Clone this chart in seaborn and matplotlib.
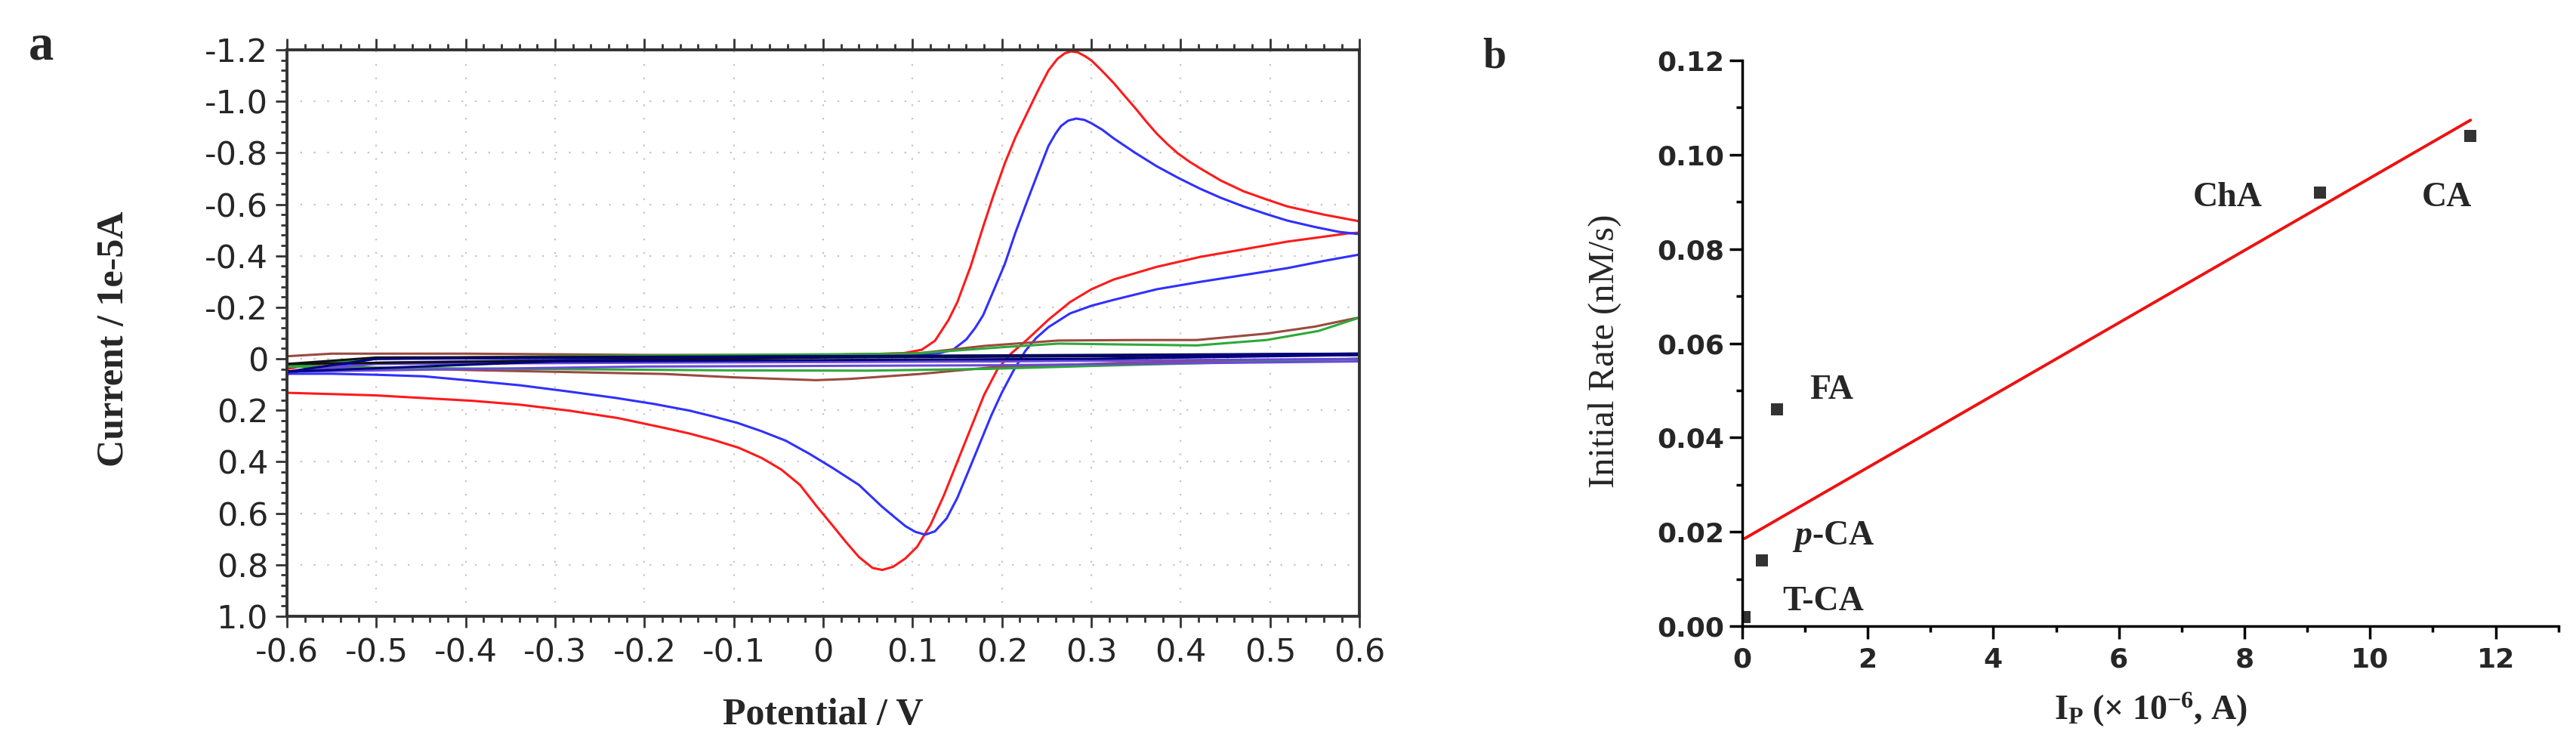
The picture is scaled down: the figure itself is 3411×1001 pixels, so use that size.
import numpy as np
import pandas as pd
import matplotlib
matplotlib.use("Agg")
import matplotlib.pyplot as plt
import seaborn as sns
from matplotlib.ticker import MultipleLocator, FuncFormatter

# ---------------- Panel a: cyclic voltammograms (Potential / V, Current / 1e-5 A)
red_fwd_E = [-0.6, -0.58, -0.55, -0.5, -0.4, -0.3, -0.2, -0.1, 0.0, 0.05, 0.09, 0.11, 0.125, 0.14, 0.15,
             0.165, 0.179, 0.19, 0.203, 0.215, 0.228, 0.24, 0.252, 0.262, 0.27, 0.277, 0.285, 0.293, 0.30,
             0.312, 0.325, 0.337, 0.349, 0.361, 0.373, 0.385, 0.397, 0.41, 0.422, 0.445, 0.47, 0.495, 0.519,
             0.56, 0.6]
red_fwd_I = [0.04, 0.025, 0.012, 0.0, -0.005, -0.008, -0.01, -0.012, -0.015, -0.018, -0.022, -0.035, -0.07,
             -0.15, -0.22, -0.36, -0.514, -0.63, -0.758, -0.86, -0.954, -1.04, -1.12, -1.165, -1.186, -1.194,
             -1.19, -1.175, -1.159, -1.118, -1.071, -1.022, -0.974, -0.923, -0.875, -0.834, -0.797, -0.765,
             -0.739, -0.692, -0.651, -0.62, -0.592, -0.56, -0.534]
red_rev_E = [0.6, 0.587, 0.519, 0.47, 0.422, 0.373, 0.325, 0.30, 0.276, 0.252, 0.228, 0.21, 0.195, 0.18,
             0.165, 0.15, 0.135, 0.12, 0.105, 0.092, 0.078, 0.066, 0.055, 0.04, 0.025, 0.011, -0.008, -0.026,
             -0.047, -0.069, -0.095, -0.123, -0.15, -0.177, -0.23, -0.285, -0.34, -0.393, -0.45, -0.501,
             -0.55, -0.6]
red_rev_I = [-0.49, -0.487, -0.455, -0.425, -0.396, -0.357, -0.308, -0.27, -0.22, -0.152, -0.074, -0.02,
             0.04, 0.14, 0.27, 0.40, 0.53, 0.645, 0.73, 0.775, 0.808, 0.82, 0.812, 0.77, 0.71, 0.65, 0.57,
             0.49, 0.43, 0.385, 0.345, 0.315, 0.29, 0.269, 0.23, 0.201, 0.178, 0.163, 0.152, 0.142, 0.137,
             0.132]

blue_fwd_E = [-0.6, -0.58, -0.55, -0.5, -0.4, -0.3, -0.2, -0.1, 0.0, 0.1, 0.13, 0.145, 0.16, 0.17, 0.179,
              0.19, 0.203, 0.215, 0.228, 0.24, 0.252, 0.26, 0.266, 0.274, 0.283, 0.292, 0.30, 0.312, 0.325,
              0.349, 0.373, 0.397, 0.422, 0.445, 0.47, 0.495, 0.519, 0.55, 0.577, 0.6]
blue_fwd_I = [0.06, 0.04, 0.025, 0.015, 0.01, 0.005, 0.0, -0.005, -0.01, -0.015, -0.022, -0.035, -0.075,
              -0.12, -0.17, -0.26, -0.367, -0.49, -0.611, -0.72, -0.827, -0.875, -0.904, -0.925, -0.933,
              -0.928, -0.915, -0.89, -0.856, -0.80, -0.748, -0.703, -0.660, -0.625, -0.592, -0.563, -0.537,
              -0.512, -0.493, -0.484]
blue_rev_E = [0.6, 0.56, 0.519, 0.47, 0.422, 0.373, 0.325, 0.30, 0.276, 0.252, 0.238, 0.226, 0.213, 0.2,
              0.188, 0.175, 0.162, 0.15, 0.138, 0.125, 0.114, 0.103, 0.092, 0.078, 0.065, 0.04, 0.011,
              -0.015, -0.042, -0.07, -0.096, -0.123, -0.15, -0.19, -0.232, -0.285, -0.339, -0.393, -0.447,
              -0.5, -0.55, -0.6]
blue_rev_I = [-0.405, -0.38, -0.352, -0.325, -0.299, -0.27, -0.229, -0.206, -0.176, -0.123, -0.08, -0.03,
              0.045, 0.13, 0.22, 0.33, 0.44, 0.54, 0.62, 0.67, 0.683, 0.672, 0.65, 0.61, 0.572, 0.49, 0.425,
              0.37, 0.318, 0.28, 0.249, 0.224, 0.201, 0.175, 0.152, 0.127, 0.103, 0.085, 0.068, 0.062, 0.058,
              0.058]

brown_fwd_E = [-0.6, -0.55, -0.4, -0.2, 0.0, 0.108, 0.18, 0.263, 0.35, 0.418, 0.496, 0.55, 0.593, 0.6]
brown_fwd_I = [-0.01, -0.02, -0.02, -0.015, -0.015, -0.022, -0.05, -0.071, -0.073, -0.073, -0.098, -0.125,
               -0.156, -0.16]
brown_rev_E = [0.6, 0.55, 0.45, 0.34, 0.186, 0.108, 0.03, -0.008, -0.1, -0.177, -0.393, -0.55, -0.6]
brown_rev_I = [0.0, 0.004, 0.008, 0.015, 0.034, 0.059, 0.078, 0.083, 0.072, 0.059, 0.044, 0.03, 0.024]

green_fwd_E = [-0.6, -0.5, -0.3, -0.1, 0.1, 0.2, 0.263, 0.35, 0.418, 0.496, 0.554, 0.6]
green_fwd_I = [0.03, 0.0, -0.01, -0.015, -0.02, -0.045, -0.059, -0.055, -0.052, -0.073, -0.108, -0.16]
green_rev_E = [0.6, 0.5, 0.34, 0.186, 0.05, -0.1, -0.3, -0.5, -0.6]
green_rev_I = [0.0, 0.01, 0.024, 0.039, 0.046, 0.045, 0.04, 0.035, 0.03]

purple_fwd_E = [-0.6, -0.5, -0.2, 0.2, 0.6]
purple_fwd_I = [0.05, 0.02, 0.015, 0.01, 0.0]
purple_rev_E = [0.6, 0.2, -0.2, -0.6]
purple_rev_I = [0.01, 0.025, 0.03, 0.05]

navy_fwd_E = [-0.6, -0.5, -0.2, 0.0, 0.3, 0.6]
navy_fwd_I = [0.05, 0.0, -0.005, -0.01, -0.012, -0.02]
navy_rev_E = [0.6, 0.3, 0.0, -0.3, -0.6]
navy_rev_I = [-0.015, 0.0, 0.005, 0.01, 0.05]

black_fwd_E = [-0.6, -0.5, 0.0, 0.6]
black_fwd_I = [0.02, -0.005, -0.01, -0.02]
black_rev_E = [0.6, 0.0, -0.6]
black_rev_I = [-0.015, -0.005, 0.02]

# ---------------- Panel b: initial rate vs peak current
compounds = ["T-CA", "p-CA", "FA", "ChA", "CA"]
ip_values = [0.04, 0.31, 0.55, 9.2, 11.6]          # I_P (x 10^-6 A)
rate_values = [0.002, 0.014, 0.046, 0.092, 0.104]  # nM/s

cv_curves = [
    (red_fwd_E, red_fwd_I, red_rev_E, red_rev_I, "#ff1a1a"),
    (blue_fwd_E, blue_fwd_I, blue_rev_E, blue_rev_I, "#3030ff"),
    (brown_fwd_E, brown_fwd_I, brown_rev_E, brown_rev_I, "#9a4a40"),
    (green_fwd_E, green_fwd_I, green_rev_E, green_rev_I, "#2fa83a"),
    (purple_fwd_E, purple_fwd_I, purple_rev_E, purple_rev_I, "#6a4ad8"),
    (black_fwd_E, black_fwd_I, black_rev_E, black_rev_I, "#111111"),
    (navy_fwd_E, navy_fwd_I, navy_rev_E, navy_rev_I, "#000080"),
]

sns.set_style("ticks")
plt.rcParams["font.family"] = ["DejaVu Sans"]
plt.rcParams.update({
    "mathtext.fontset": "custom",
    "mathtext.rm": "Liberation Serif:bold",
    "mathtext.it": "Liberation Serif:italic:bold",
    "mathtext.bf": "Liberation Serif:bold",
})

SERIF = "Liberation Serif"

fig = plt.figure(figsize=(34.12, 10.01), dpi=100)
axa = fig.add_axes([0.1114, 0.1848, 0.4162, 0.7493])
axb = fig.add_axes([0.6761, 0.1718, 0.3168, 0.7483])

# ---- panel a
for fE, fI, rE, rI, col in cv_curves:
    sns.lineplot(x=fE + rE, y=fI + rI, sort=False, estimator=None, color=col,
                 linewidth=2.2, ax=axa)

axa.set_xlim(-0.6, 0.6)
axa.set_ylim(1.0, -1.2)
axa.xaxis.set_major_locator(MultipleLocator(0.1))
axa.xaxis.set_minor_locator(MultipleLocator(0.02))
axa.yaxis.set_major_locator(MultipleLocator(0.2))
axa.yaxis.set_minor_locator(MultipleLocator(0.04))
fmt = FuncFormatter(lambda v, p: "0" if abs(v) < 1e-9 else f"{v:.1f}")
axa.xaxis.set_major_formatter(fmt)
axa.yaxis.set_major_formatter(fmt)
axa.tick_params(which="both", direction="out", top=True, right=False, color="#333333", width=2)
axa.tick_params(which="major", length=11, labelsize=31, pad=7)
axa.tick_params(which="minor", length=6)
axa.tick_params(axis="x", which="major", pad=9)
for s in axa.spines.values():
    s.set_color("#333333")
    s.set_linewidth(2.8)
axa.grid(True, which="major", linestyle=(0, (1, 7)), color="#c4c4c4", linewidth=1.6)
axa.set_axisbelow(True)
axa.set_xlabel("Potential / V", fontfamily=SERIF, fontweight="bold", fontsize=36)
axa.set_ylabel("Current / 1e-5A", fontfamily=SERIF, fontweight="bold", fontsize=36)
axa.xaxis.label.set_va("center")
axa.yaxis.label.set_va("center")
axa.xaxis.set_label_coords(0.5, -0.175)
axa.yaxis.set_label_coords(-0.161, 0.49)

# ---- panel b
sns.regplot(x=ip_values, y=rate_values, ci=None, marker="s", color="black",
            scatter_kws={"s": 130, "zorder": 3, "linewidths": 0},
            line_kws={"color": "#ee1111", "linewidth": 2.8}, ax=axb)
axb.set_xlim(0, 13)
axb.set_ylim(0, 0.12)
sns.despine(ax=axb)
axb.xaxis.set_major_locator(MultipleLocator(2))
axb.xaxis.set_minor_locator(MultipleLocator(1))
axb.yaxis.set_major_locator(MultipleLocator(0.02))
axb.yaxis.set_minor_locator(MultipleLocator(0.01))
axb.xaxis.set_major_formatter(FuncFormatter(lambda v, p: f"{v:.0f}"))
axb.yaxis.set_major_formatter(FuncFormatter(lambda v, p: f"{v:.2f}"))
axb.tick_params(which="both", direction="out", color="black", width=2.5)
axb.tick_params(which="major", length=12, labelsize=26)
axb.tick_params(which="minor", length=6)
axb.tick_params(axis="y", which="major", pad=5)
axb.tick_params(axis="x", which="major", pad=8)
for lab in axb.get_xticklabels() + axb.get_yticklabels():
    lab.set_fontweight("bold")
for s in axb.spines.values():
    s.set_linewidth(2.5)
    s.set_color("black")

label_pos = {"T-CA": (0.64, 0.0051), "p-CA": (0.79, 0.019), "FA": (1.07, 0.050),
             "ChA": (7.18, 0.0908), "CA": (10.82, 0.0908)}
label_text = {"T-CA": "T-CA", "p-CA": r"$\mathit{p}$-CA", "FA": "FA", "ChA": "ChA", "CA": "CA"}
for c in compounds:
    x0, y0 = label_pos[c]
    axb.text(x0, y0, label_text[c], fontfamily=SERIF, fontweight="bold", fontsize=33,
             ha="left", va="center")

axb.set_xlabel(r"I$_\mathrm{P}$ (× 10$^{\mathrm{-6}}$, A)", fontfamily=SERIF, fontweight="bold", fontsize=33)
axb.set_ylabel("Initial Rate (nM/s)", fontfamily=SERIF, fontsize=35)
axb.xaxis.label.set_va("center")
axb.yaxis.label.set_va("center")
axb.xaxis.set_label_coords(0.501, -0.148)
axb.yaxis.set_label_coords(-0.168, 0.486)

fig.text(0.016, 0.938, "a", fontfamily=SERIF, fontweight="bold", fontsize=48, ha="center", va="center")
fig.text(0.580, 0.925, "b", fontfamily=SERIF, fontweight="bold", fontsize=40, ha="center", va="center")

fig.savefig("out.png", dpi=100, facecolor="white")
